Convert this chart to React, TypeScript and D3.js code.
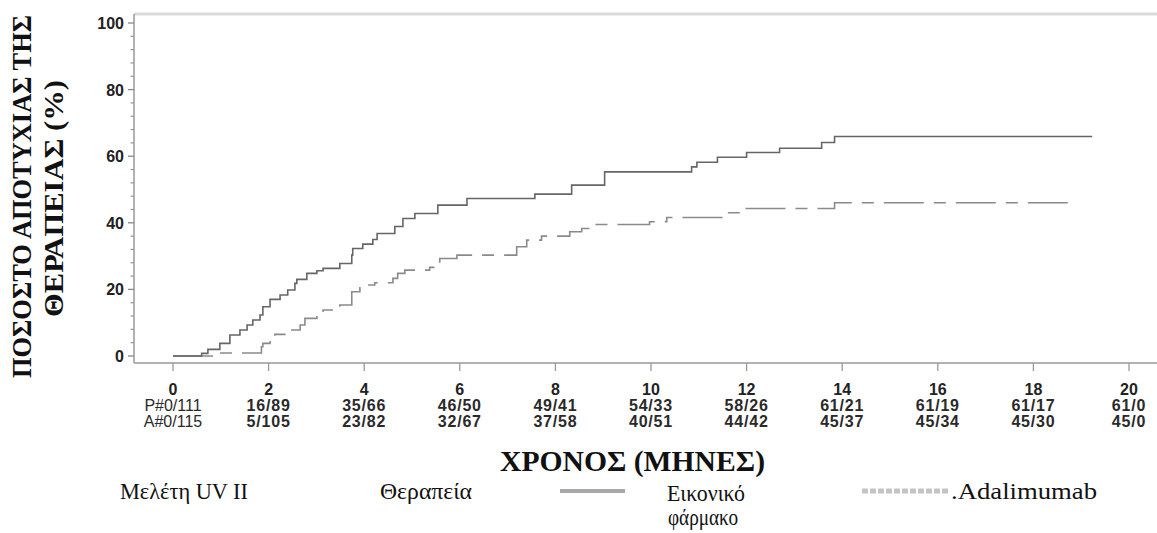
import React from "react";
import * as d3 from "d3";

const placeboT = [0, 0.6, 0.73, 0.98, 1.19, 1.4, 1.55, 1.67, 1.82, 1.88, 2.03, 2.24, 2.4, 2.55, 2.59, 2.8, 3.01, 3.14, 3.49, 3.74, 3.76, 3.97, 4.18, 4.27, 4.64, 4.81, 5.06, 5.54, 6.15, 7.57, 8.34, 9.03, 10.85, 10.96, 11.39, 12.0, 12.69, 13.57, 13.84, 19.23];
const placeboV = [0, 0.8, 2.0, 3.8, 6.3, 7.8, 9.3, 10.8, 12.3, 14.8, 17.0, 18.3, 19.8, 21.8, 23.0, 24.8, 25.6, 26.3, 27.8, 30.3, 32.3, 33.6, 35.0, 36.8, 38.9, 41.3, 42.8, 45.3, 47.3, 48.6, 51.3, 55.3, 56.8, 58.2, 59.7, 61.1, 62.4, 64.1, 65.9, 65.9];

const adaT = [0, 0.98, 1.85, 1.88, 2.03, 2.13, 2.34, 2.66, 2.76, 3.01, 3.14, 3.49, 3.74, 3.91, 4.22, 4.6, 4.7, 4.85, 5.37, 5.58, 5.94, 7.19, 7.4, 7.71, 8.3, 8.55, 8.78, 9.97, 10.33, 11.48, 11.92, 13.84, 18.9];
const adaV = [0, 0.9, 2.8, 3.8, 5.3, 6.5, 7.8, 9.3, 11.3, 12.3, 13.8, 15.3, 19.3, 21.3, 22.0, 23.3, 24.8, 25.8, 26.6, 29.3, 30.3, 32.8, 34.8, 36.0, 37.3, 38.3, 39.5, 40.3, 41.6, 43.0, 44.3, 46.0, 46.0];

const xTicks = [0, 2, 4, 6, 8, 10, 12, 14, 16, 18, 20];
const yTicks = [0, 20, 40, 60, 80, 100];
const placeboRisk = ["P#0/111", "16/89", "35/66", "46/50", "49/41", "54/33", "58/26", "61/21", "61/19", "61/17", "61/0"];
const adaRisk = ["A#0/115", "5/105", "23/82", "32/67", "37/58", "40/51", "44/42", "45/37", "45/34", "45/30", "45/0"];

const yTitle1 = "ΠΟΣΟΣΤΟ ΑΠΟΤΥΧΙΑΣ ΤΗΣ";
const yTitle2 = "ΘΕΡΑΠΕΙΑΣ (%)";
const xTitle = "ΧΡΟΝΟΣ (ΜΗΝΕΣ)";

export default function App() {
  const W = 1157, H = 533;
  const x = d3.scaleLinear().domain([0, 20]).range([173, 1129]);
  const y = d3.scaleLinear().domain([0, 100]).range([356, 23]);
  const axisX = 134, axisY = 363;
  const line = d3.line<[number, number]>().x(d => x(d[0])).y(d => y(d[1])).curve(d3.curveStepAfter);
  const pData = placeboT.map((t, i) => [t, placeboV[i]] as [number, number]);
  const aData = adaT.map((t, i) => [t, adaV[i]] as [number, number]);
  const minorY = d3.range(0, 101, 4).filter(v => v % 20 !== 0);
  const serif = "'Liberation Serif', 'Times New Roman', serif";
  const sans = "'Liberation Sans', Arial, sans-serif";

  return (
    <svg width={W} height={H} style={{ position: "absolute", left: 0, top: 0, background: "#fff" }}>
      <rect width={W} height={H} fill="#fff" />
      <line x1={axisX} x2={W} y1={14} y2={14} stroke="#d9d9d9" strokeWidth={3} />
      <line x1={axisX} x2={axisX} y1={14} y2={axisY} stroke="#999" strokeWidth={1.5} />
      {yTicks.map(v => (
        <g key={"yt" + v}>
          <line x1={axisX - 6} x2={axisX} y1={y(v)} y2={y(v)} stroke="#888" strokeWidth={1.3} />
          <text x={124} y={y(v) + 6} textAnchor="end" fontFamily={sans} fontWeight="bold" fontSize={16} fill="#222">{v}</text>
        </g>
      ))}
      {minorY.map(v => (
        <line key={"ym" + v} x1={axisX - 3.5} x2={axisX} y1={y(v)} y2={y(v)} stroke="#998" strokeWidth={1.2} />
      ))}
      <line x1={axisX} x2={W} y1={axisY} y2={axisY} stroke="#999" strokeWidth={1.5} />
      {xTicks.map((t, i) => (
        <g key={"xt" + t}>
          <line x1={x(t)} x2={x(t)} y1={axisY} y2={axisY + 8} stroke="#999" strokeWidth={1.3} />
          <text x={x(t)} y={395} textAnchor="middle" fontFamily={sans} fontWeight="bold" fontSize={16} fill="#222">{t}</text>
          <text x={x(t)} y={411} textAnchor="middle" fontFamily={sans} fontWeight={i === 0 ? "normal" : "bold"} fontSize={16} letterSpacing={i === 0 ? 0 : 0.8} fill="#2a2a2a">{placeboRisk[i]}</text>
          <text x={x(t)} y={427} textAnchor="middle" fontFamily={sans} fontWeight={i === 0 ? "normal" : "bold"} fontSize={16} letterSpacing={i === 0 ? 0 : 0.8} fill="#2a2a2a">{adaRisk[i]}</text>
        </g>
      ))}
      <path d={line(aData) || ""} fill="none" stroke="#8a8a8a" strokeWidth={1.6} strokeDasharray="40 10 12 10" />
      <path d={line(pData) || ""} fill="none" stroke="#666" strokeWidth={1.6} />
      <text transform="translate(31,196.5) rotate(-90)" textAnchor="middle" fontFamily={serif} fontWeight="bold" fontSize={28} textLength={363} lengthAdjust="spacingAndGlyphs" fill="#111">{yTitle1}</text>
      <text transform="translate(63,198.5) rotate(-90)" textAnchor="middle" fontFamily={serif} fontWeight="bold" fontSize={28} textLength={237} lengthAdjust="spacingAndGlyphs" fill="#111">{yTitle2}</text>
      <text x={500} y={471} fontFamily={serif} fontWeight="bold" fontSize={29} textLength={265} lengthAdjust="spacingAndGlyphs" fill="#111">{xTitle}</text>
      <text x={120} y={499} fontFamily={serif} fontSize={24} textLength={128} lengthAdjust="spacingAndGlyphs" fill="#111">Μελέτη UV II</text>
      <text x={380} y={499} fontFamily={serif} fontSize={24} textLength={92} lengthAdjust="spacingAndGlyphs" fill="#111">Θεραπεία</text>
      <line x1={560} x2={625} y1={491} y2={491} stroke="#a8a8a8" strokeWidth={4} />
      <text x={667} y={501} fontFamily={serif} fontSize={24} textLength={78} lengthAdjust="spacingAndGlyphs" fill="#111">Εικονικό</text>
      <text x={668} y={525} fontFamily={serif} fontSize={24} textLength={70} lengthAdjust="spacingAndGlyphs" fill="#111">φάρμακο</text>
      <line x1={862} x2={950} y1={491} y2={491} stroke="#c4c4c4" strokeWidth={5} strokeDasharray="6 2" />
      <text x={951} y={499} fontFamily={serif} fontSize={24} textLength={146} lengthAdjust="spacingAndGlyphs" fill="#111">.Adalimumab</text>
    </svg>
  );
}
